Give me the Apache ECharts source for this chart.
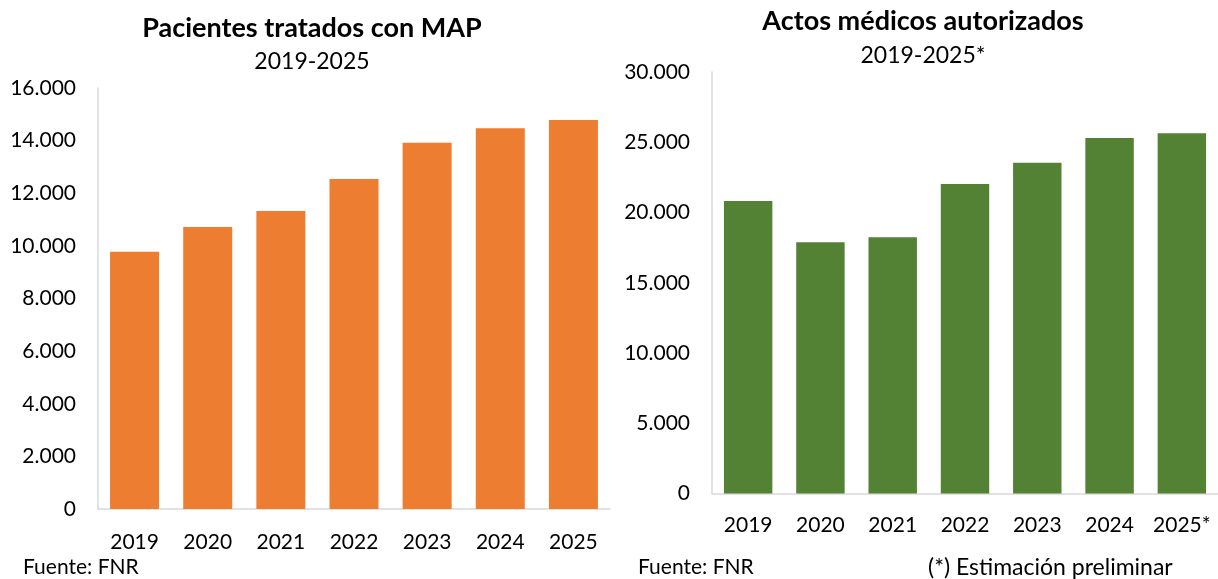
<!DOCTYPE html>
<html>
<head>
<meta charset="utf-8">
<script src="https://cdn.jsdelivr.net/npm/echarts@6/dist/echarts.min.js"></script>
<style>
  html, body { margin: 0; padding: 0; background: #fff; }
  #chart { width: 1218px; height: 579px; }
</style>
</head>
<body>
<div id="chart"></div>
<script>
// Years shown on both panels
const years = ['2019', '2020', '2021', '2022', '2023', '2024', '2025'];
const yearsActos = ['2019', '2020', '2021', '2022', '2023', '2024', '2025*'];

// Patients treated with MAP, per year
const pacientes = [9780, 10720, 11330, 12540, 13920, 14470, 14780];
// Authorised medical acts, per year (2025 preliminary)
const actos = [20820, 17880, 18230, 22030, 23540, 25300, 25640];

const FONT = 'Lato, "Open Sans", sans-serif';
const TEXT = '#000000';
const AXIS = '#d9d9d9';

// Thousands separated with a dot
function fmt(v) {
  return String(Math.round(v)).replace(/\B(?=(\d{3})+(?!\d))/g, '.');
}

const chart = echarts.init(document.getElementById('chart'), null, { renderer: 'canvas' });

function yAxis(gridIndex, max, interval) {
  return {
    type: 'value', gridIndex, min: 0, max, interval,
    axisLine: { show: true, lineStyle: { color: AXIS, width: 1.5 } },
    axisTick: { show: false },
    splitLine: { show: false },
    axisLabel: { formatter: fmt, color: TEXT, fontFamily: FONT, fontSize: 21, margin: 22 }
  };
}

function xAxis(gridIndex, data, margin) {
  return {
    type: 'category', gridIndex, data,
    axisLine: { show: true, lineStyle: { color: AXIS, width: 1.5 } },
    axisTick: { show: false },
    axisLabel: { color: TEXT, fontFamily: FONT, fontSize: 21, margin, interval: 0 }
  };
}

chart.setOption({
  animation: false,
  title: [
    { text: 'Pacientes tratados con MAP', left: 307, top: 10, textAlign: 'center',
      textStyle: { fontFamily: FONT, fontWeight: 'bold', fontSize: 27, color: TEXT } },
    { text: '2019-2025', left: 307, top: 45, textAlign: 'center',
      textStyle: { fontFamily: FONT, fontWeight: 'normal', fontSize: 23, color: TEXT } },
    { text: 'Actos médicos autorizados', left: 918, top: 3, textAlign: 'center',
      textStyle: { fontFamily: FONT, fontWeight: 'bold', fontSize: 27, color: TEXT } },
    { text: '2019-2025*', left: 918, top: 39, textAlign: 'center',
      textStyle: { fontFamily: FONT, fontWeight: 'normal', fontSize: 23, color: TEXT } },
    { text: 'Fuente: FNR', left: 18, top: 552,
      textStyle: { fontFamily: FONT, fontWeight: 'normal', fontSize: 21, color: TEXT } },
    { text: 'Fuente: FNR', left: 633, top: 552,
      textStyle: { fontFamily: FONT, fontWeight: 'normal', fontSize: 21, color: TEXT } },
    { text: '(*) Estimación preliminar', left: 923, top: 551,
      textStyle: { fontFamily: FONT, fontWeight: 'normal', fontSize: 23, color: TEXT } }
  ],
  grid: [
    { left: 98, right: 608, top: 88, bottom: 70 },
    { left: 712, width: 509, top: 72, bottom: 85.5 }
  ],
  xAxis: [xAxis(0, years, 23), xAxis(1, yearsActos, 21)],
  yAxis: [yAxis(0, 16000, 2000), yAxis(1, 30000, 5000)],
  series: [
    { type: 'bar', xAxisIndex: 0, yAxisIndex: 0, data: pacientes,
      barCategoryGap: '33%', itemStyle: { color: '#ED7D31' } },
    { type: 'bar', xAxisIndex: 1, yAxisIndex: 1, data: actos,
      barCategoryGap: '33%', itemStyle: { color: '#548235' } }
  ]
});
</script>
</body>
</html>
